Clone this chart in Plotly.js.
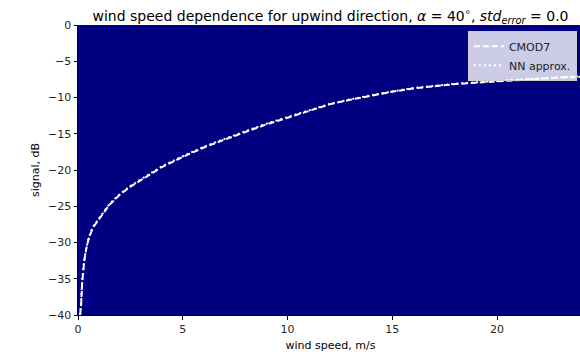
<!DOCTYPE html>
<html>
<head>
<meta charset="utf-8">
<script src="https://cdn.plot.ly/plotly-3.0.1.min.js"></script>
<style>
html, body { margin: 0; padding: 0; overflow: hidden; background: #fff; width: 580px; height: 357px; }
#chart { width: 620px; height: 357px; }
</style>
</head>
<body>
<div id="chart"></div>
<script>
// wind speed, m/s
const windSpeed = [0.1, 0.15, 0.2, 0.3, 0.4, 0.5, 0.7, 1.0, 1.5, 2, 2.5, 3, 4, 5, 6, 7, 8, 9, 10, 11, 12, 13, 14, 15, 16, 17, 18, 19, 20, 21, 22, 23, 24];
// CMOD7 signal, dB
const cmod7 = [-40, -38.5, -35.5, -32.5, -30.8, -29.6, -28.0, -26.8, -24.8, -23.4, -22.3, -21.4, -19.6, -18.2, -16.9, -15.8, -14.7, -13.7, -12.8, -11.85, -10.95, -10.3, -9.7, -9.2, -8.75, -8.4, -8.15, -7.95, -7.75, -7.55, -7.4, -7.25, -7.15];
// NN approximation signal, dB
const nnApprox = [-40, -38.3, -35.3, -32.4, -30.7, -29.5, -27.9, -26.7, -24.7, -23.3, -22.2, -21.3, -19.5, -18.1, -16.8, -15.7, -14.6, -13.6, -12.7, -11.8, -10.9, -10.25, -9.65, -9.15, -8.7, -8.35, -8.1, -7.9, -7.7, -7.5, -7.35, -7.2, -7.1];

const xTicks = [0, 5, 10, 15, 20];
const yTicks = [0, -5, -10, -15, -20, -25, -30, -35, -40];

const font = 'DejaVu Sans, sans-serif';

const traces = [
  { x: windSpeed, y: cmod7, name: 'CMOD7', mode: 'lines',
    line: { color: '#ffffff', width: 2, dash: '6px,3px' } },
  { x: windSpeed, y: nnApprox, name: 'NN approx.', mode: 'lines',
    line: { color: '#ffffff', width: 2, dash: '2px,3px' } }
];

const layout = {
  width: 620, height: 357,
  margin: { l: 78, r: 37, t: 25, b: 42 },
  paper_bgcolor: '#ffffff',
  plot_bgcolor: '#000080',
  font: { family: font, size: 11, color: '#262626' },
  title: {
    text: 'wind speed dependence for upwind direction, <i>α</i> = 40<sup>∘</sup>, <i>std</i><sub><i>error</i></sub> = 0.0',
    font: { family: font, size: 14, color: '#000000' },
    x: 0.5, xref: 'paper', xanchor: 'center', y: 0.968, yanchor: 'top'
  },
  xaxis: {
    range: [0, 24.1], tickvals: xTicks, ticktext: xTicks.map(String),
    showgrid: false, zeroline: false, showline: true, linecolor: '#000', linewidth: 1,
    ticks: 'outside', ticklen: 3.5, tickcolor: '#000', tickwidth: 1,
    tickfont: { family: font, size: 11, color: '#262626' },
    title: { text: 'wind speed, m/s', font: { family: font, size: 11, color: '#000' }, standoff: 6 }
  },
  yaxis: {
    range: [-40, 0], tickvals: yTicks,
    showgrid: false, zeroline: false, showline: true, linecolor: '#000', linewidth: 1,
    ticks: 'outside', ticklen: 3.5, tickcolor: '#000', tickwidth: 1,
    tickfont: { family: font, size: 11, color: '#262626' },
    title: { text: 'signal, dB', font: { family: font, size: 11, color: '#000' }, standoff: 6 }
  },
  legend: {
    x: 0.988, y: 0.98, xanchor: 'right', yanchor: 'top',
    bgcolor: 'rgba(255,255,255,0.8)', bordercolor: '#cccccc', borderwidth: 1,
    tracegroupgap: 0,
    font: { family: font, size: 11, color: '#222' }
  },
  showlegend: true
};

Plotly.newPlot('chart', traces, layout, { displayModeBar: false, staticPlot: true });
</script>
</body>
</html>
